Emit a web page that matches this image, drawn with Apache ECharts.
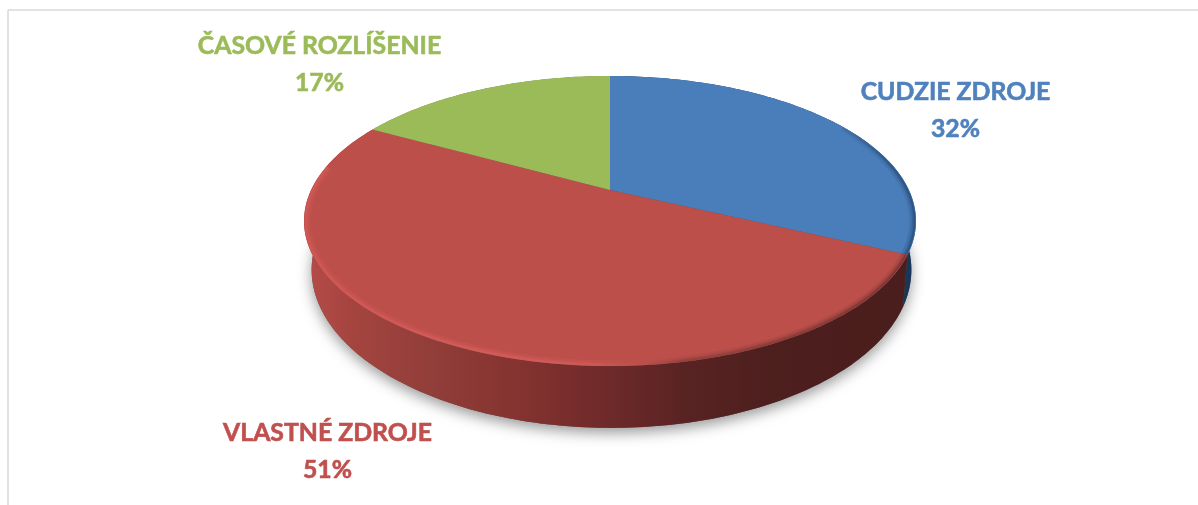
<!DOCTYPE html>
<html><head><meta charset="utf-8">
<style>html,body{margin:0;padding:0;background:#fff}#c{width:1198px;height:505px}</style>
<script src="https://cdn.jsdelivr.net/npm/echarts@6/dist/echarts.min.js"></script>
</head><body><div id="c"></div>
<script>
const categories = ['CUDZIE ZDROJE', 'VLASTNÉ ZDROJE', 'ČASOVÉ ROZLÍŠENIE'];
const values = [32, 51, 17];
const topColors = ['#4a7ebb', '#bd4f4b', '#9bbb59'];
const textColors = ['#4f81bd', '#c0504d', '#9bbb59'];
const labelCenters = [[955.5, 111], [327.5, 452], [319.5, 65]];

const G = echarts.graphic;
const CX = 610, CY = 190, RX = 298.9, RY = 138.4, K = 0.2138;
const DROP = 46, SX = 0.98, SY = 1.09, SHIFT_X = 1.5;
const RIM_FROM = 60, RIM_TO = 280;
const total = values.reduce((a, b) => a + b, 0);

function pt(deg, lower) {
  const t = deg * Math.PI / 180, x = Math.sin(t), y = -Math.cos(t), w = 1 - K * y;
  return lower ? [CX + SHIFT_X + SX * RX * x / w, CY + DROP + SY * RY * y / w]
               : [CX + RX * x / w, CY + RY * y / w];
}
function arc(a, b, lower) {
  const out = [], n = Math.max(2, Math.ceil(Math.abs(b - a)));
  for (let i = 0; i <= n; i++) out.push(pt(a + (b - a) * i / n, lower));
  return out;
}
function span(i) {
  let s = 0;
  for (let j = 0; j < i; j++) s += values[j];
  return [s / total * 360, (s + values[i]) / total * 360];
}
const hGrad = stops => new G.LinearGradient(304, 0, 916, 0,
  stops.map(s => ({offset: s[0], color: s[1]})), true);

const wallFill = [
  hGrad([[0, '#1c3f66'], [1, '#17375a']]),
  hGrad([[0, '#b64c49'], [0.08, '#a5443f'], [0.2, '#923e3a'], [0.35, '#853330'],
         [0.48, '#702b2a'], [0.62, '#5a2323'], [0.75, '#4d1f1e'], [1, '#4a1e1c']]),
  hGrad([[0, '#6f8a40'], [1, '#6f8a40']])
];
const rimStroke = [
  hGrad([[0, 'rgba(35,70,110,0)'], [0.85, 'rgba(35,70,110,0)'], [0.96, 'rgba(35,70,110,0.85)'], [1, '#234670']]),
  hGrad([[0, '#d65a57'], [0.3, '#dc5f5c'], [0.47, '#d65c59'], [0.55, 'rgba(190,80,76,0.4)'],
         [0.62, 'rgba(110,50,48,0.55)'], [1, 'rgba(90,36,34,0.75)']]),
  hGrad([[0, 'rgba(155,187,89,0)'], [1, 'rgba(155,187,89,0)']])
];

function renderBase(params) {
  const i = params.dataIndex, [a, b] = span(i);
  const lowerArc = arc(a, b, true), upperArc = arc(a, b, false);
  return {type: 'group', children: [
    {type: 'polygon', shape: {points: [[CX, CY + DROP]].concat(lowerArc)},
     style: {fill: '#555', shadowBlur: 14, shadowOffsetY: 5, shadowColor: 'rgba(0,0,0,0.4)'}},
    {type: 'polygon', shape: {points: upperArc.concat(lowerArc.slice().reverse())},
     style: {fill: wallFill[i]}}
  ]};
}
function renderTop(params) {
  const i = params.dataIndex, [a, b] = span(i);
  const upperArc = arc(a, b, false);
  const children = [
    {type: 'polygon', shape: {points: [[CX, CY]].concat(upperArc)}, style: {fill: topColors[i]}}
  ];
  const ra = Math.max(a, RIM_FROM), rb = Math.min(b, RIM_TO);
  if (rb > ra) {
    const rim = arc(ra, rb, false);
    const inward = f => rim.map(p => [p[0] + (CX - p[0]) * f, p[1] + (CY + 31 - p[1]) * f * 1.6]);
    children.push(
      {type: 'polyline', shape: {points: inward(0.012)}, style: {fill: 'none', stroke: rimStroke[i], lineWidth: 6, opacity: 0.22}},
      {type: 'polyline', shape: {points: inward(0.008)}, style: {fill: 'none', stroke: rimStroke[i], lineWidth: 3.5, opacity: 0.35}},
      {type: 'polyline', shape: {points: inward(0.005)}, style: {fill: 'none', stroke: rimStroke[i], lineWidth: 2, opacity: 0.5}}
    );
  }
  return {type: 'group', children};
}
function renderLabel(params, api) {
  const i = params.dataIndex, c = labelCenters[i];
  return {type: 'text', x: c[0], y: c[1], style: {
    text: categories[i] + '\n' + api.value(0) + '%',
    fill: textColors[i], stroke: textColors[i], lineWidth: 0.6,
    font: '700 24.8px Lato', lineHeight: 37, align: 'center', verticalAlign: 'middle'
  }};
}
const data = values.map((v, i) => ({name: categories[i], value: v}));
const chart = echarts.init(document.getElementById('c'), null, {renderer: 'canvas'});
chart.setOption({
  animation: false,
  backgroundColor: '#fff',
  graphic: [
    {type: 'line', shape: {x1: 8, y1: 10, x2: 1198, y2: 10}, style: {stroke: '#d9d9d9', lineWidth: 1.5}},
    {type: 'line', shape: {x1: 8, y1: 10, x2: 8, y2: 505}, style: {stroke: '#d9d9d9', lineWidth: 1.5}}
  ],
  series: [
    {type: 'custom', coordinateSystem: 'none', data, renderItem: renderBase, z: 1, silent: true},
    {type: 'custom', coordinateSystem: 'none', data, renderItem: renderTop, z: 2, silent: true},
    {type: 'custom', coordinateSystem: 'none', data, renderItem: renderLabel, z: 3, silent: true}
  ]
});
</script></body></html>
